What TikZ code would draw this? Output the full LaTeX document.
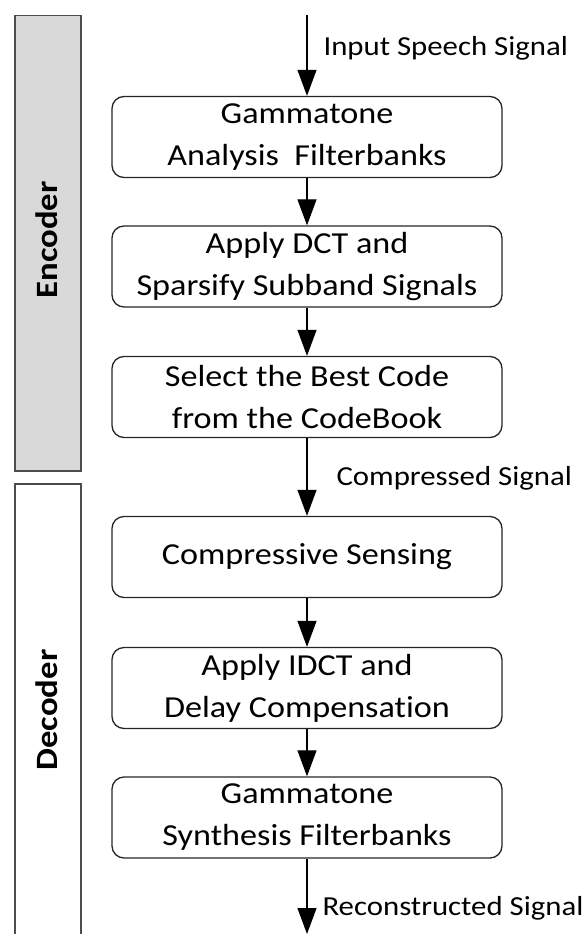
\documentclass[tikz,border=0pt]{standalone}
\usepackage{fontspec}
\setmainfont{Carlito}[FakeStretch=1.12, Ligatures=NoCommon]
\usetikzlibrary{arrows.meta}
\begin{document}
\begin{tikzpicture}[x=1pt,y=-1pt,
  bar/.style={draw=black!70, line width=1.5pt, minimum width=66pt, anchor=north west, inner sep=0pt},
  barlabel/.style={rotate=90, font=\fontsize{31}{36}\selectfont\bfseries},
  stepbox/.style={draw=black!85, rounded corners=12pt, line width=1.3pt, minimum width=390pt, minimum height=81pt, align=center, inner sep=0pt, font=\fontsize{30.5}{42}\selectfont},
  sig/.style={anchor=base west, font=\fontsize{27.5}{32}\selectfont},
  arr/.style={line width=1.2pt, -{Triangle[width=19pt,length=26pt]}}]
\useasboundingbox (0,0) rectangle (587,934);
\clip (0,0) rectangle (587,934);
\node[bar, fill=black!15, minimum height=455pt] (enc) at (14,15) {};
\node[bar, fill=white, minimum height=470pt] (dec) at (14,483) {};
\node[barlabel] (enctext) at (47,240) {Encoder};
\node[barlabel] (dectext) at (47,710) {Decoder};
\node[stepbox] (b1) at (307,137) {Gammatone\\Analysis~ Filterbanks};
\node[stepbox] (b2) at (307,266.5) {Apply DCT and\\Sparsify Subband Signals};
\node[stepbox] (b3) at (307,397) {Select the Best Code\\from the CodeBook};
\node[stepbox] (b4) at (307,557) {Compressive Sensing};
\node[stepbox] (b5) at (307,688) {Apply IDCT and\\Delay Compensation};
\node[stepbox] (b6) at (307,817.5) {Gammatone\\Synthesis Filterbanks};
\coordinate (in) at (307,15);
\coordinate (out) at (307,934);
\draw[arr] (in) -- (b1);
\draw[arr] (b1) -- (b2);
\draw[arr] (b2) -- (b3);
\draw[arr] (b3) -- (b4);
\draw[arr] (b4) -- (b5);
\draw[arr] (b5) -- (b6);
\draw[arr] (b6) -- (out);
\node[sig] (l1) at (320,56) {Input Speech Signal};
\node[sig] (l2) at (333,485) {Compressed Signal};
\node[sig] (l3) at (319,915) {Reconstructed Signal};
\end{tikzpicture}
\end{document}
